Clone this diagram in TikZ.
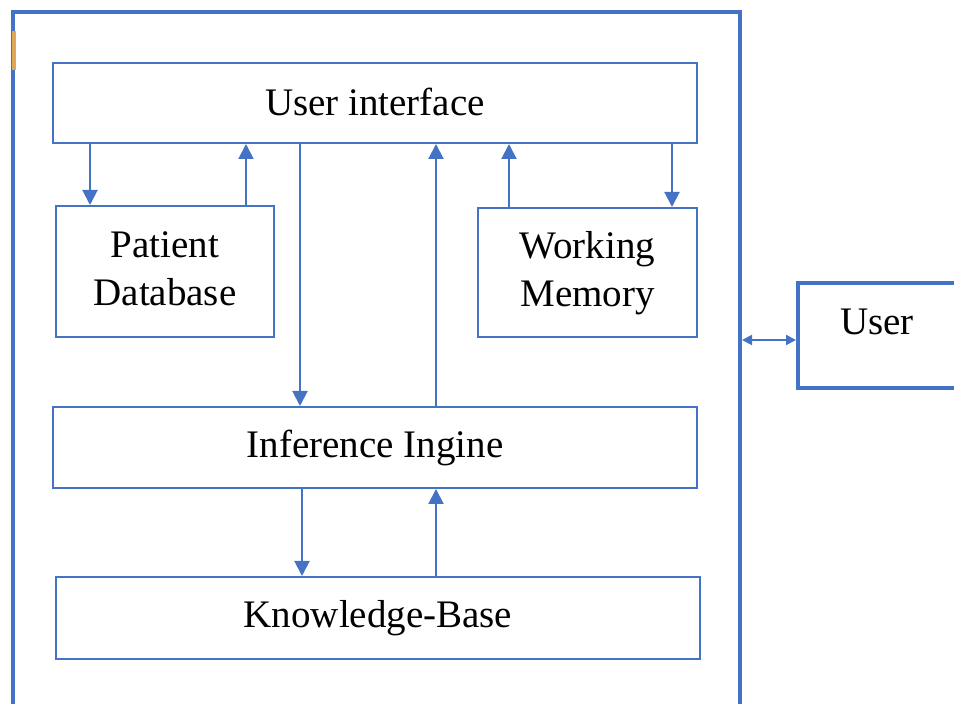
\documentclass[tikz,border=0pt]{standalone}
\usepackage{fontspec}
\setmainfont{Liberation Serif}
\usetikzlibrary{arrows.meta}
\definecolor{boxblue}{RGB}{68,114,196}
\definecolor{markorange}{RGB}{222,168,88}
\tikzstyle{block}=[draw=boxblue, line width=1pt, inner sep=0pt, align=center, font=\fontsize{19.5}{24}\selectfont]
\tikzstyle{frame}=[draw=boxblue, line width=2pt, inner sep=0pt]
\tikzstyle{arrow}=[draw=boxblue, line width=1pt, -{Triangle[length=7.5pt,width=7.5pt]}]
\tikzstyle{dblarrow}=[draw=boxblue, line width=1pt, {Triangle[length=5pt,width=5pt]}-{Triangle[length=5pt,width=5pt]}]
\newcommand{\twolines}[3]{\raisebox{#1}{\begin{tabular}{@{}c@{}}#2\\#3\end{tabular}}}

\begin{document}
\begin{tikzpicture}[x=0.5pt, y=-0.5pt]
	\clip (0,0) rectangle (954,704);
	\begin{scope}
		\node (sys) at (376.5,366) [frame, minimum width=363.5pt, minimum height=354pt] {};
		\draw [markorange, line width=2pt] (13.5,31) -- (13.5,70);
		\node (ui) at (375,103) [block, minimum width=322pt, minimum height=40pt] {\raisebox{1.5pt}{User interface}};
		\node (pdb) at (165,271.5) [block, minimum width=109pt, minimum height=65.5pt] {\twolines{3pt}{Patient}{Database}};
		\node (wm) at (587.5,272.5) [block, minimum width=109.5pt, minimum height=64.5pt] {\twolines{1pt}{Working}{Memory}};
		\node (ie) at (375,447.5) [block, minimum width=322pt, minimum height=40.5pt] {\raisebox{1.5pt}{Inference Ingine}};
		\node (kb) at (378,618) [block, minimum width=322pt, minimum height=41pt] {\raisebox{3pt}{Knowledge-Base}};
		\node (user) at (880,335.5) [frame, minimum width=82pt, minimum height=52.5pt] {};
		\node (usertxt) at (877,322) [font=\fontsize{19.5}{24}\selectfont, inner sep=0pt] {User};
	\end{scope}
	% arrow columns
	\coordinate (c1) at (90,0);
	\coordinate (c2) at (246,0);
	\coordinate (c3) at (300,0);
	\coordinate (c4) at (436,0);
	\coordinate (c5) at (509,0);
	\coordinate (c6) at (672,0);
	\coordinate (c7) at (302,0);
	\coordinate (c8) at (0,340);
	\begin{scope}
		\draw [arrow] (ui.south -| c1) -- (pdb.north -| c1);
		\draw [arrow] (pdb.north -| c2) -- (ui.south -| c2);
		\draw [arrow] (ui.south -| c3) -- (ie.north -| c3);
		\draw [arrow] (ie.north -| c4) -- (ui.south -| c4);
		\draw [arrow] (wm.north -| c5) -- (ui.south -| c5);
		\draw [arrow] (ui.south -| c6) -- (wm.north -| c6);
		\draw [arrow] (ie.south -| c7) -- (kb.north -| c7);
		\draw [arrow] (kb.north -| c4) -- (ie.south -| c4);
		\draw [dblarrow] (sys.east |- c8) -- (user.west |- c8);
	\end{scope}
\end{tikzpicture}
\end{document}
